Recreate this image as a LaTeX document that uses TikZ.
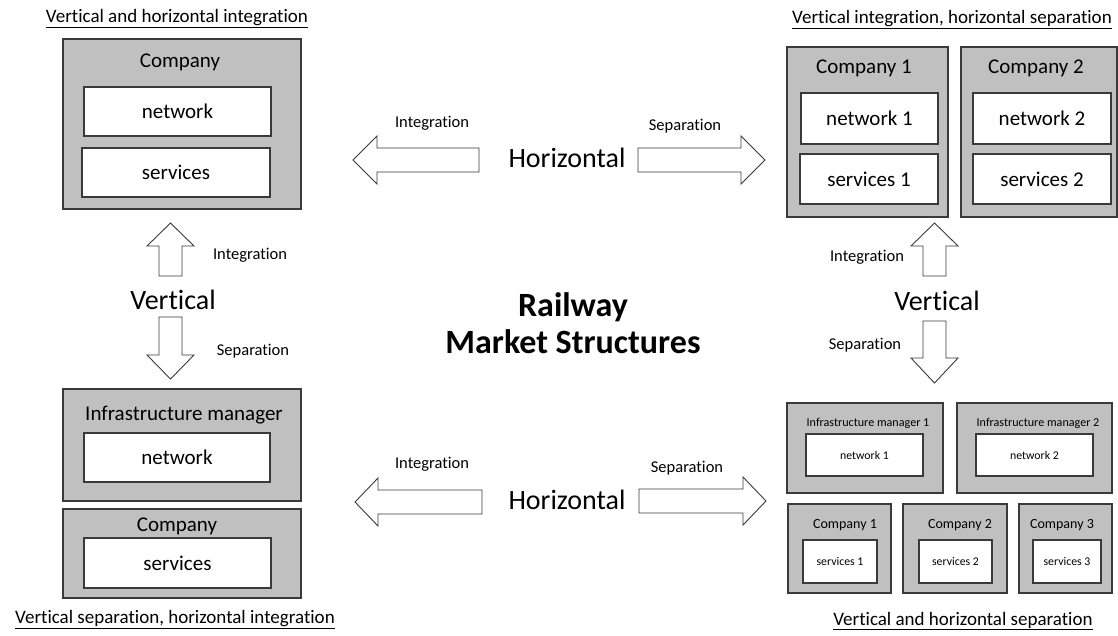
\documentclass[tikz,border=0pt]{standalone}
\usepackage{fontspec}
\setmainfont[Ligatures=NoCommon]{Carlito}
\usetikzlibrary{positioning}
\definecolor{boxgrey}{HTML}{C0C0C0}
\definecolor{edgegrey}{HTML}{3A3A3A}
% block arrows: \hblk{y}{tail}{head base}{tip}, \vblk{x}{tail}{head base}{tip}
\newcommand{\hblk}[4]{\draw[blockarrow] (#2,#1-12) -- (#3,#1-12) -- (#3,#1-24) -- (#4,#1) -- (#3,#1+24) -- (#3,#1+12) -- (#2,#1+12) -- cycle;}
\newcommand{\vblk}[4]{\draw[blockarrow] (#1-11.5,#2) -- (#1-11.5,#3) -- (#1-23.5,#3) -- (#1,#4) -- (#1+23.5,#3) -- (#1+11.5,#3) -- (#1+11.5,#2) -- cycle;}

\tikzset{
  outerbox/.style={draw=edgegrey,fill=boxgrey,line width=1.1pt,inner sep=0pt},
  innerbox/.style={draw=edgegrey,fill=white,line width=1.1pt,inner sep=0pt,font=\fontsize{21}{25}\selectfont},
  smallbox/.style={innerbox,font=\fontsize{11.8}{14}\selectfont},
  boxtitle/.style={inner sep=0pt,font=\fontsize{21}{25}\selectfont},
  smalltitle/.style={inner sep=0pt,font=\fontsize{12.1}{15}\selectfont},
  smallcomp/.style={inner sep=0pt,font=\fontsize{14}{17}\selectfont},
  caption/.style={inner sep=0pt,font=\fontsize{19}{23}\selectfont},
  steplabel/.style={inner sep=0pt,font=\fontsize{16.5}{20}\selectfont},
  axislabel/.style={inner sep=0pt,font=\fontsize{28}{34}\selectfont},
  blockarrow/.style={draw=edgegrey,fill=white,line width=0.9pt,line join=miter}
}

\begin{document}
\begin{tikzpicture}[x=1pt,y=-1pt]
  \useasboundingbox (0,0) rectangle (1118,635);

  % vertical and horizontal integration
  \node[caption] (capTL) at (177,19) {\underline{Vertical and horizontal integration}};
  \node[outerbox,minimum width=238pt,minimum height=170pt] (compA) at (182,124) {};
  \node[boxtitle] (compAt) at (180,62) {Company};
  \node[innerbox,minimum width=187pt,minimum height=49pt] (netA) at (177.5,111.5) {network};
  \node[innerbox,minimum width=188pt,minimum height=49pt] (servA) at (176,172.5) {services};

  % vertical integration, horizontal separation
  \node[caption] (capTR) at (952,20) {\underline{Vertical integration, horizontal separation}};
  \node[outerbox,minimum width=161pt,minimum height=170pt] (compB1) at (867.5,132) {};
  \node[outerbox,minimum width=156pt,minimum height=170pt] (compB2) at (1039,132) {};
  \node[boxtitle] (compB1t) at (864,68) {Company 1};
  \node[boxtitle] (compB2t) at (1036,68) {Company 2};
  \node[innerbox,minimum width=137pt,minimum height=51pt] (netB1) at (869.5,118.5) {network 1};
  \node[innerbox,minimum width=138pt,minimum height=50pt] (servB1) at (869,179) {services 1};
  \node[innerbox,minimum width=138pt,minimum height=51pt] (netB2) at (1042,118.5) {network 2};
  \node[innerbox,minimum width=138pt,minimum height=50pt] (servB2) at (1042,179) {services 2};

  % vertical separation, horizontal integration
  \node[outerbox,minimum width=238pt,minimum height=112pt] (infC) at (182,445) {};
  \node[boxtitle] (infCt) at (184,415) {Infrastructure manager};
  \node[innerbox,minimum width=186pt,minimum height=49pt] (netC) at (177,457.5) {network};
  \node[outerbox,minimum width=238pt,minimum height=89pt] (compC) at (182,553.5) {};
  \node[boxtitle] (compCt) at (177,526) {Company};
  \node[innerbox,minimum width=187pt,minimum height=50pt] (servC) at (177.5,563) {services};
  \node[caption] (capBL) at (175,620) {\underline{Vertical separation, horizontal integration}};

  % vertical and horizontal separation
  \node[outerbox,minimum width=156pt,minimum height=90pt] (infD1) at (865,448) {};
  \node[outerbox,minimum width=155pt,minimum height=90pt] (infD2) at (1034.5,448) {};
  \node[smalltitle] (infD1t) at (868,423) {Infrastructure manager 1};
  \node[smalltitle] (infD2t) at (1038,423) {Infrastructure manager 2};
  \node[smallbox,minimum width=117pt,minimum height=42pt] (netD1) at (864.5,455) {network 1};
  \node[smallbox,minimum width=117pt,minimum height=42pt] (netD2) at (1034.5,455) {network 2};
  \node[outerbox,minimum width=103pt,minimum height=89pt] (compD1) at (839.5,548.5) {};
  \node[outerbox,minimum width=104pt,minimum height=89pt] (compD2) at (955,548.5) {};
  \node[outerbox,minimum width=93pt,minimum height=89pt] (compD3) at (1065.5,548.5) {};
  \node[smallcomp] (compD1t) at (845,525) {Company 1};
  \node[smallcomp] (compD2t) at (960,525) {Company 2};
  \node[smallcomp] (compD3t) at (1062,525) {Company 3};
  \node[smallbox,minimum width=74pt,minimum height=43pt] (servD1) at (840,561.5) {services 1};
  \node[smallbox,minimum width=73pt,minimum height=43pt] (servD2) at (955.5,561.5) {services 2};
  \node[smallbox,minimum width=68pt,minimum height=43pt] (servD3) at (1067,561.5) {services 3};
  \node[caption] (capBR) at (963,621) {\underline{Vertical and horizontal separation}};

  % centre
  \node[axislabel,font=\fontsize{34}{37}\selectfont\bfseries,align=center] (title) at (573,323) {Railway\\Market Structures};

  % horizontal steps
  \node[axislabel] (horT) at (567,158) {Horizontal};
  \node[axislabel] (horB) at (567,500) {Horizontal};
  \hblk{160}{479}{377}{353}
  \hblk{160}{638}{741}{765}
  \hblk{502}{482}{378}{355}
  \hblk{501}{639}{743}{766}
  \node[steplabel] (intT) at (432,123) {Integration};
  \node[steplabel] (sepT) at (685,126) {Separation};
  \node[steplabel] (intB) at (432,464) {Integration};
  \node[steplabel] (sepB) at (687,468) {Separation};

  % vertical steps
  \node[axislabel] (verL) at (173,300) {Vertical};
  \node[axislabel] (verR) at (937,301) {Vertical};
  \vblk{170.5}{276}{246}{223}
  \vblk{170.5}{317}{355}{379}
  \vblk{934.5}{276}{246}{223}
  \vblk{934.5}{321}{358}{383}
  \node[steplabel] (intL) at (250,255) {Integration};
  \node[steplabel] (sepL) at (253,351) {Separation};
  \node[steplabel] (intR) at (867,257) {Integration};
  \node[steplabel] (sepR) at (865,345) {Separation};
\end{tikzpicture}
\end{document}
